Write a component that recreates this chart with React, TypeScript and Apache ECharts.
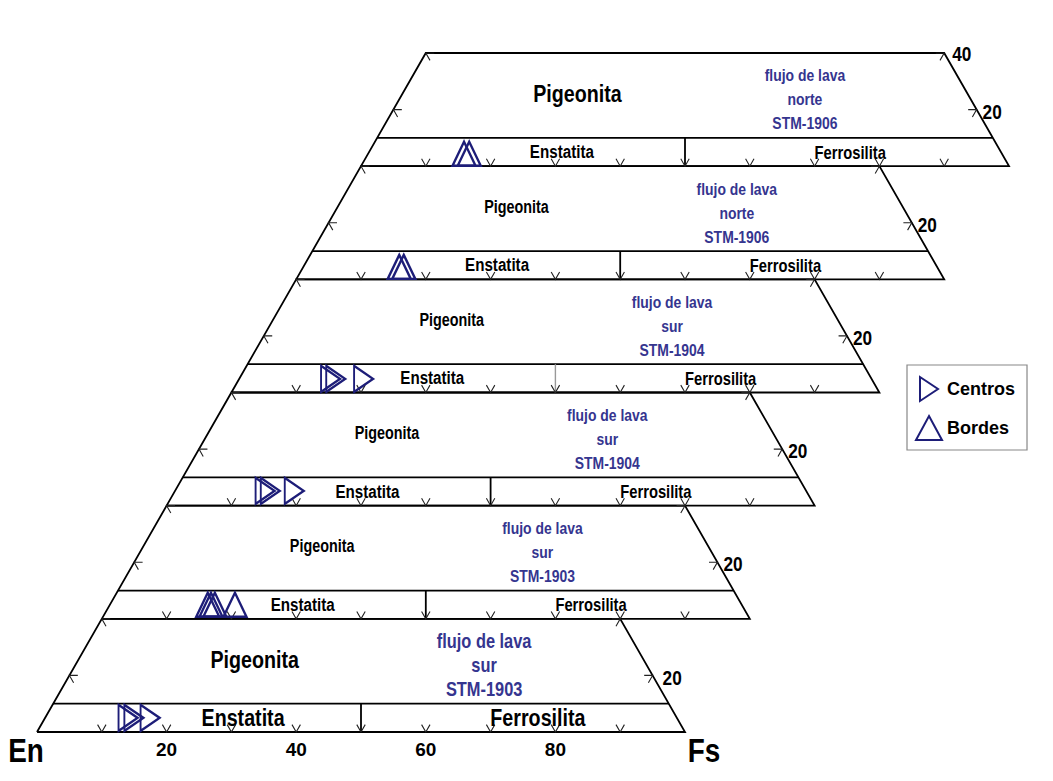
import React, { useEffect, useRef } from "react";
import * as echarts from "echarts";

// ---------- data ----------
const samples = ["STM-1903", "STM-1903", "STM-1904", "STM-1904", "STM-1906", "STM-1906"];
const flows = ["sur", "sur", "sur", "sur", "norte", "norte"];
// [Fs, Wo] per diagram (diagram 0 = bottom)
const centros: [number, number][][] = [
  [[12.8, 2.5], [13.7, 2.5], [16.2, 2.5]],
  [],
  [[13.9, 2.6], [14.7, 2.6], [18.4, 2.6]],
  [[14.1, 2.4], [14.9, 2.4], [19.2, 2.4]],
  [],
  [],
];
const bordes: [number, number][][] = [
  [],
  [[15.1, 2.5], [15.6, 2.5], [16.2, 2.5], [19.3, 2.5]],
  [],
  [],
  [[14.8, 2.2], [15.5, 2.2]],
  [[14.8, 2.2], [15.6, 2.2]],
];
const baseTicks = [10, 20, 30, 40, 50, 60, 70, 80, 90];
const edgeTicks = [10, 20];
const axisTickLabels = ["20", "40", "60", "80"];
const rightLabels = ["20", "20", "20", "20", "20", "20"];
const topRightLabel = "40";

// ---------- geometry ----------
const S3 = Math.sqrt(3) / 2;
const H = 20 * S3;
const NDIA = 6;
const toXY = (k: number, fs: number, wo: number): [number, number] => [fs + wo / 2 + 10 * k, wo * S3 + H * k];
const at = (k: number, X: number, wo: number): [number, number] => [X + 10 * k, wo * S3 + H * k];

const FONT = '"Liberation Sans", Arial, Helvetica, sans-serif';
const NARROW = 0.82;
const BLUE = "#35358f";
const MARK = "#1d1d78";

// per-diagram text sizes and horizontal anchors (layout)
const sizes = [
  { pig: 24, en: 24, fe: 24, flu: 20, pigX: 33.6, fluX: 69, enX: 31.8, feX: 77.3, rDx: 10 },
  { pig: 17.5, en: 18.5, fe: 18, flu: 17, pigX: 34, fluX: 68, enX: 31, feX: 75.5, rDx: 6 },
  { pig: 17.5, en: 18.5, fe: 18, flu: 17, pigX: 34, fluX: 68, enX: 31, feX: 75.5, rDx: 6 },
  { pig: 17.5, en: 18.5, fe: 18, flu: 17, pigX: 34, fluX: 68, enX: 31, feX: 75.5, rDx: 6 },
  { pig: 17.5, en: 18.5, fe: 18, flu: 17, pigX: 34, fluX: 68, enX: 31, feX: 75.5, rDx: 6 },
  { pig: 24, en: 18.5, fe: 18, flu: 17, pigX: 33.4, fluX: 68.5, enX: 31, feX: 75.5, rDx: 6 },
];

function buildOption() {
  const frame: any[] = [];
  const grayDiv: any[] = [];
  const ticks: any[] = [];
  const L = 1.3;
  for (let k = 0; k < NDIA; k++) {
    frame.push({ coords: [toXY(k, 0, 0), toXY(k, 100, 0), toXY(k, 80, 20), toXY(k, 0, 20), toXY(k, 0, 0)] });
    frame.push({ coords: [toXY(k, 0, 5), toXY(k, 95, 5)] });
    const div = { coords: [toXY(k, 50, 0), toXY(k, 47.5, 5)] };
    if (k === 3) grayDiv.push(div);
    else frame.push(div);
    for (const t of baseTicks) {
      const [x, y] = toXY(k, t, 0);
      ticks.push({ coords: [[x - L * 0.5, y + L * S3], [x, y], [x + L * 0.5, y + L * S3]] });
    }
    for (const w of edgeTicks) {
      const [x, y] = toXY(k, 0, w);
      ticks.push({ coords: [[x + L, y], [x, y], [x + L * 0.5, y - L * S3]] });
      const [xr, yr] = toXY(k, 100 - w, w);
      ticks.push({ coords: [[xr - L, yr], [xr, yr], [xr - L * 0.5, yr - L * S3]] });
    }
  }

  const flat = (arr: [number, number][][]) => arr.flatMap((pts, k) => pts.map(([fs, wo]) => toXY(k, fs, wo)));

  return {
    animation: false,
    backgroundColor: "#fff",
    grid: { left: 37, right: 44, top: 53, bottom: 49, outerBoundsMode: "none", containLabel: false },
    xAxis: {
      type: "value",
      min: 0,
      max: 150,
      interval: 20,
      axisLine: { show: false },
      axisTick: { show: false },
      splitLine: { show: false },
      axisLabel: {
        margin: 8,
        fontFamily: FONT,
        fontWeight: "bold",
        fontSize: 19,
        color: "#000",
        formatter: (v: number) => (axisTickLabels.includes(String(v)) ? String(v) : ""),
      },
    },
    yAxis: { type: "value", min: 0, max: NDIA * H, show: false, splitLine: { show: false } },
    legend: {
      data: [
        { name: "Centros", icon: "path://M0,0L18,12L0,24Z" },
        { name: "Bordes", icon: "path://M13,0L26,24L0,24Z" },
      ],
      orient: "vertical",
      left: 907,
      top: 365,
      padding: [11, 12, 9, 8],
      itemGap: 13,
      itemWidth: 26,
      itemHeight: 24,
      itemTextGap: 8,
      borderColor: "#888",
      borderWidth: 1.2,
      textStyle: { fontFamily: FONT, fontWeight: "bold", fontSize: 18, color: "#000" },
    },
    series: [
      { type: "lines", coordinateSystem: "cartesian2d", polyline: true, silent: true, z: 2, data: frame, lineStyle: { color: "#000", width: 1.8, opacity: 1 } },
      { type: "lines", coordinateSystem: "cartesian2d", polyline: true, silent: true, z: 2, data: grayDiv, lineStyle: { color: "#999", width: 1.4, opacity: 1 } },
      { type: "lines", coordinateSystem: "cartesian2d", polyline: true, silent: true, z: 2, data: ticks, lineStyle: { color: "#222", width: 1.1, opacity: 1 } },
      {
        name: "Centros",
        type: "scatter",
        z: 4,
        symbol: "triangle",
        symbolRotate: -90,
        symbolSize: [26, 19],
        data: flat(centros),
        itemStyle: { color: "rgba(255,255,255,0)", borderColor: MARK, borderWidth: 2.2, opacity: 1 },
      },
      {
        name: "Bordes",
        type: "scatter",
        z: 4,
        symbol: "triangle",
        symbolSize: [23, 24],
        data: flat(bordes),
        itemStyle: { color: "rgba(255,255,255,0)", borderColor: MARK, borderWidth: 2.4, opacity: 1 },
      },
    ],
  };
}

type Lbl = { pos: [number, number]; text: string; size: number; color?: string; align?: string; dx?: number; dy?: number; lh?: number };

function buildLabels(): Lbl[] {
  const out: Lbl[] = [];
  for (let k = 0; k < NDIA; k++) {
    const s = sizes[k];
    out.push({ pos: at(k, s.pigX, 12.8), text: "Pigeonita", size: s.pig });
    out.push({ pos: at(k, s.fluX, 11.8), text: `flujo de lava\n${flows[k]}\n${samples[k]}`, size: s.flu, color: BLUE, lh: 24 });
    out.push({ pos: at(k, s.enX, 2.5), text: "Enstatita", size: s.en });
    out.push({ pos: at(k, s.feX, 2.5), text: "Ferrosilita", size: s.fe });
    out.push({ pos: toXY(k, 90, 10), text: rightLabels[k], size: 21, align: "left", dx: s.rDx, dy: 2 });
  }
  out.push({ pos: toXY(5, 80, 20), text: topRightLabel, size: 21, align: "left", dx: 8, dy: 1 });
  out.push({ pos: toXY(0, 0, 0), text: "En", size: 34, dx: -11, dy: 19 });
  out.push({ pos: toXY(0, 100, 0), text: "Fs", size: 34, dx: 19, dy: 19 });
  return out;
}

export default function App() {
  const ref = useRef<HTMLDivElement>(null);
  useEffect(() => {
    if (!ref.current) return;
    const chart = echarts.init(ref.current, null, { renderer: "svg" });
    chart.setOption(buildOption() as any);
    const graphic = buildLabels().map((l) => {
      const p = chart.convertToPixel({ gridIndex: 0 }, l.pos) as number[];
      return {
        type: "text",
        x: p[0] + (l.dx || 0),
        y: p[1] + (l.dy || 0),
        scaleX: NARROW,
        z: 10,
        silent: true,
        style: {
          text: l.text,
          fontFamily: FONT,
          fontWeight: "bold",
          fontSize: l.size,
          lineHeight: l.lh,
          fill: l.color || "#000",
          align: l.align || "center",
          verticalAlign: "middle",
          textAlign: l.align || "center",
          textVerticalAlign: "middle",
        },
      };
    });
    chart.setOption({ graphic } as any);
    return () => chart.dispose();
  }, []);
  return <div ref={ref} style={{ position: "fixed", left: 0, top: 0, width: 1053, height: 781 }} />;
}
